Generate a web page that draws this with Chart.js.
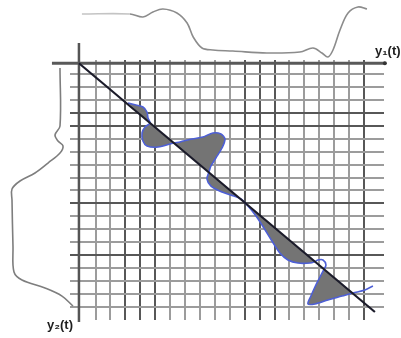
<!DOCTYPE html>
<html>
<head>
<meta charset="utf-8">
<script src="https://cdn.jsdelivr.net/npm/chart.js@4"></script>
<style>
    body { margin: 0; background: #fff; overflow: hidden; }
    #wrap { position: relative; width: 401px; height: 338px; overflow: hidden; }
    .lbl { position: absolute; font: bold 13px "Liberation Sans", Arial, sans-serif; color: #1e1e1e; white-space: nowrap; }
</style>
</head>
<body>
<div id="wrap">
    <canvas id="dtwChart"></canvas>
    <div class="lbl" style="left:375px; top:43px;">y₁(t)</div>
    <div class="lbl" style="left:47px; top:317px;">y₂(t)</div>
</div>
<script>
// grid lines (time index of y1 along x, of y2 along y)
const gridCols = [1, 2, 3, 4, 5, 6, 7, 8, 9, 10, 11, 12, 13, 14, 15, 16, 17, 18, 19];
const gridRows = [1, 2, 3, 4, 5, 6, 7, 8, 9, 10, 11, 12, 13, 14, 15, 16, 17, 18, 19];
const darkCols = [3, 4, 5, 11, 12, 13, 19];
const darkRows = [4, 5, 11, 15];

// y1(t) drawn above the grid
const sigTopT = [0.09, 3.31, 4.18, 4.85, 5.52, 6.46, 7.14, 7.55, 8.14, 8.87, 10.21, 12.49, 14.70, 15.58, 16.18, 16.58, 16.92, 17.39, 17.93, 18.59, 19.2];
const sigTopA = [8.6, 8.6, 8.0, 9.0, 9.6, 8.8, 6.8, 4.0, 1.8, 1.4, 1.2, 0.8, 1.0, 1.8, 0.8, 0, 1.4, 5.4, 8.8, 10.0, 9.6];

// y2(t) drawn left of the grid
const sigLeftT = [0.54, 5.02, 5.71, 6.18, 6.56, 7.11, 7.88, 8.65, 9.27, 9.89, 10.74, 14.37, 16.30, 16.92, 17.54, 18.16, 18.93];
const sigLeftA = [3.0, 3.0, 4.0, 3.4, 2.4, 3.0, 5.4, 8.0, 11.0, 12.6, 12.6, 12.4, 12.2, 10.6, 6.0, 2.6, 0.4];

// warping path
const warpX = [3.18, 3.71, 4.18, 4.45, 4.52, 4.65, 4.32, 4.12, 4.18, 4.45, 5.19, 6.26, 6.66, 7.47, 8.20, 8.87, 9.41, 9.68, 9.48, 9.07,
               8.74, 8.61, 8.47, 8.74, 9.48, 10.28, 10.75, 11.22, 11.76, 12.29, 12.83, 13.36, 13.90, 14.57, 15.38, 15.71, 15.91, 16.25, 16.45, 16.31,
               16.05, 15.71, 15.44, 15.24, 15.71, 16.58, 17.52, 18.26, 19.06, 19.60];
const warpY = [3.24, 3.40, 3.55, 3.94, 4.40, 4.79, 5.10, 5.56, 6.18, 6.56, 6.64, 6.33, 6.25, 6.02, 5.87, 5.56, 5.64, 6.02, 6.72, 7.49,
               8.11, 8.57, 9.11, 9.66, 10.12, 10.43, 10.66, 11.20, 11.97, 12.90, 13.91, 14.83, 15.37, 15.61, 15.61, 15.49, 15.37, 15.37, 15.76, 16.11,
               16.69, 17.46, 18.16, 18.77, 18.77, 18.46, 18.16, 17.92, 17.69, 17.38];
// stretches of the path that are shaded against the diagonal
const shadeRanges = [[0, 5], [5, 11], [11, 21], [21, 26], [26, 35], [39, 47]];

// diagonal and the two axes
const diagX = [-0.11, 19.73];
const diagY = [0.17, 19.39];
const axisHX = [-1.92, 20.4];
const axisHY = 0.17;
const axisVX = -0.11;
const axisVY = [-1.40, 20.17];

const pts = (xs, ys) => xs.map((x, i) => ({ x: x, y: ys[i] }));

const datasets = [];

shadeRanges.forEach(([a, b]) => {
    datasets.push({
        data: pts(warpX.slice(a, b + 1), warpY.slice(a, b + 1)),
        showLine: true,
        fill: 'shape',
        backgroundColor: '#747474',
        borderWidth: 0,
        pointRadius: 0,
        tension: 0.3,
        order: 5
    });
});

datasets.push({
    data: pts(warpX, warpY),
    showLine: true,
    fill: false,
    borderColor: '#4d5fd6',
    borderWidth: 1.6,
    pointRadius: 0,
    tension: 0.3,
    order: 4
});

datasets.push({
    data: pts(diagX, diagY),
    showLine: true,
    borderColor: '#1b1b2a',
    borderWidth: 2.2,
    pointRadius: 0,
    clip: false,
    order: 1
});

datasets.push({
    data: [{ x: axisHX[0], y: axisHY }, { x: axisHX[1], y: axisHY }],
    showLine: true,
    borderColor: '#595959',
    borderWidth: 3,
    pointRadius: [0, 2],
    pointBackgroundColor: '#333',
    pointBorderWidth: 0,
    clip: false,
    order: 2
});

datasets.push({
    data: [{ x: axisVX, y: axisVY[0] }, { x: axisVX, y: axisVY[1] }],
    showLine: true,
    borderColor: '#555',
    borderWidth: 2.5,
    pointRadius: 0,
    clip: false,
    order: 2
});

datasets.push({
    data: pts(sigTopT, sigTopA),
    yAxisID: 'yTop',
    showLine: true,
    borderColor: '#8c8c8c',
    borderWidth: 1.6,
    segment: {
        borderColor: ctx => ctx.p1DataIndex <= 1 ? '#c4c4c4' : '#8c8c8c'
    },
    pointRadius: 0,
    tension: 0.35,
    clip: false,
    order: 3
});

datasets.push({
    data: pts(sigLeftA, sigLeftT),
    xAxisID: 'xLeft',
    showLine: true,
    borderColor: '#7e7e7e',
    borderWidth: 1.6,
    pointRadius: 0,
    tension: 0.35,
    clip: false,
    order: 3
});

const ctx = document.getElementById('dtwChart').getContext('2d');
new Chart(ctx, {
    type: 'scatter',
    data: { datasets: datasets },
    options: {
        responsive: true,
        maintainAspectRatio: false,
        devicePixelRatio: 1,
        animation: false,
        layout: {
            padding: { left: 70, right: 17, top: 60, bottom: 18 }
        },
        plugins: {
            legend: { display: false },
            tooltip: { enabled: false }
        },
        scales: {
            x: {
                type: 'linear',
                position: 'bottom',
                min: -0.71,
                max: 20.34,
                afterBuildTicks: scale => { scale.ticks = gridCols.map(v => ({ value: v })); },
                ticks: { display: false },
                border: { display: false },
                grid: {
                    drawTicks: false,
                    lineWidth: 2,
                    color: c => darkCols.includes(c.tick.value) ? '#575757' : '#9c9c9c'
                }
            },
            y: {
                type: 'linear',
                position: 'left',
                reverse: true,
                min: -0.08,
                max: 20.01,
                afterBuildTicks: scale => { scale.ticks = gridRows.map(v => ({ value: v })); },
                ticks: { display: false },
                border: { display: false },
                grid: {
                    drawTicks: false,
                    lineWidth: 2,
                    color: c => darkRows.includes(c.tick.value) ? '#575757' : '#9c9c9c'
                }
            },
            yTop: {
                axis: 'y',
                type: 'linear',
                position: 'left',
                display: false,
                min: -52.6,
                max: -0.6
            },
            xLeft: {
                axis: 'x',
                type: 'linear',
                position: 'bottom',
                display: false,
                reverse: true,
                min: -61.8,
                max: 1
            }
        }
    }
});
</script>
</body>
</html>
